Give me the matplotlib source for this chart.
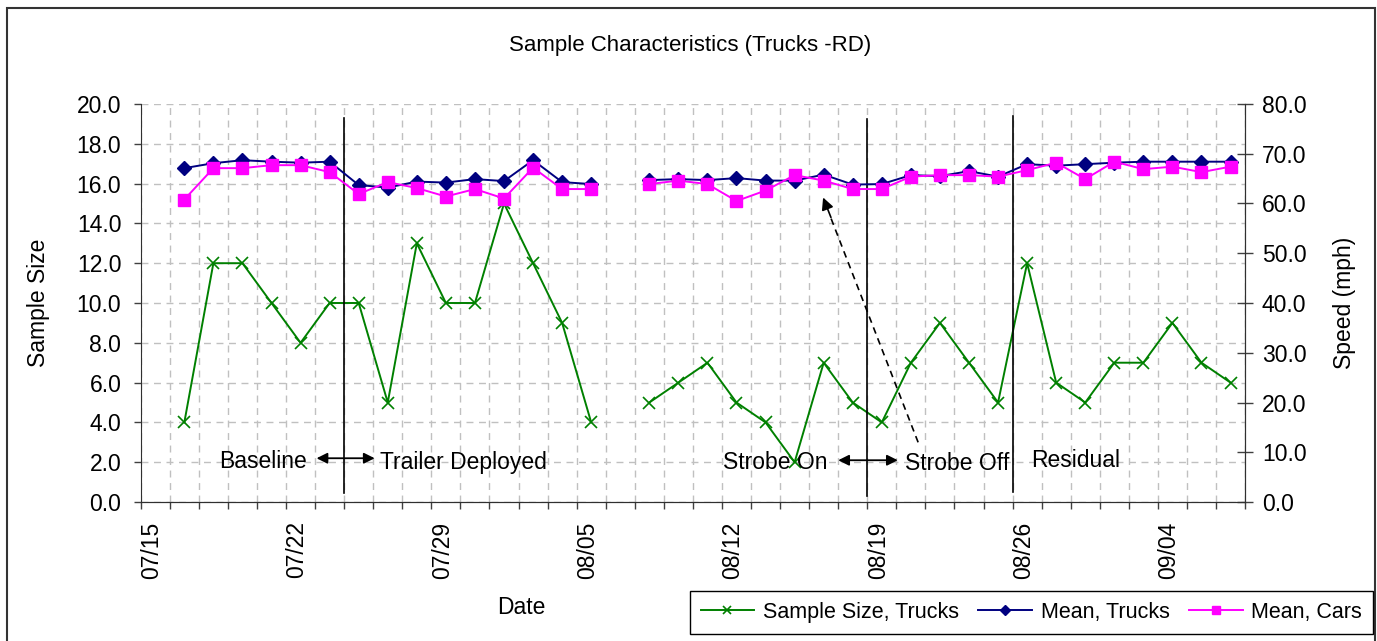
import numpy as np
import matplotlib
matplotlib.use("Agg")
from matplotlib import pyplot as plt
from matplotlib.patches import Rectangle

plt.rcParams['font.family'] = ['Liberation Sans', 'DejaVu Sans']

nan = np.nan

# one category per sampling day (weekdays)
dates = ['07/15', '07/16', '07/17', '07/18', '07/19',
         '07/22', '07/23', '07/24', '07/25', '07/26',
         '07/29', '07/30', '07/31', '08/01', '08/02',
         '08/05', '08/06', '08/07', '08/08', '08/09',
         '08/12', '08/13', '08/14', '08/15', '08/16',
         '08/19', '08/20', '08/21', '08/22', '08/23',
         '08/26', '08/27', '08/28', '08/29', '08/30',
         '09/04', '09/05', '09/06']

sample_trucks = [nan, 4, 12, 12, 10, 8, 10, 10, 5, 13, 10, 10, 15, 12, 9, 4,
                 nan, 5, 6, 7, 5, 4, 2, 7, 5, 4, 7, 9, 7, 5, 12, 6, 5, 7, 7, 9, 7, 6]
mean_trucks = [nan, 67.1, 68.1, 68.7, 68.4, 68.2, 68.4, 63.7, 63.2, 64.4, 64.2, 64.9,
               64.5, 68.7, 64.3, 63.9,
               nan, 64.7, 64.9, 64.7, 65.1, 64.6, 64.6, 65.8, 63.8, 63.9, 65.7, 65.5,
               66.5, 65.4, 67.9, 67.6, 67.9, 68.2, 68.4, 68.4, 68.4, 68.4]
mean_cars = [nan, 60.8, 67.1, 67.1, 67.7, 67.7, 66.3, 61.9, 64.3, 63.1, 61.4, 62.9,
             61.0, 67.2, 62.9, 62.9,
             nan, 63.9, 64.6, 63.9, 60.5, 62.6, 65.7, 64.6, 62.9, 62.9, 65.4, 65.7,
             65.7, 65.4, 66.7, 68.2, 64.9, 68.4, 66.9, 67.4, 66.3, 67.4]

# phase changes fall between these categories
phase_breaks = [6.5, 24.5, 29.5]

x = np.arange(len(dates))
fs = 16.5

fig = plt.figure(figsize=(13.77, 6.41), dpi=100)
ax = fig.add_axes([0.1022, 0.2168, 0.8020, 0.6210])
ax2 = ax.twinx()

# grid
ax.set_xlim(-0.5, len(dates) - 0.5)
ax.set_ylim(0, 20)
ax2.set_ylim(0, 80)
ax.set_yticks(np.arange(0, 20.1, 2))
ax2.set_yticks(np.arange(0, 80.1, 10))
ax.yaxis.set_major_formatter(matplotlib.ticker.FormatStrFormatter('%.1f'))
ax2.yaxis.set_major_formatter(matplotlib.ticker.FormatStrFormatter('%.1f'))
ax.set_xticks(np.arange(-0.5, len(dates), 1))
ax.set_xticklabels([])
ax.set_xticks(x[::5] - 0.12, minor=True)
ax.set_xticklabels(dates[::5], minor=True, rotation=90, va='top', ha='center')
ax.grid(True, which='major', color='#c0c0c0', ls=(0, (5, 4)), lw=1)
ax.set_axisbelow(True)

ax.tick_params(axis='x', which='major', length=5, width=1, color='#404040')
ax.tick_params(axis='x', which='minor', length=0, pad=14, labelsize=fs)
ax.tick_params(axis='y', length=5, width=1, color='#404040', pad=9, labelsize=fs)
ax2.tick_params(axis='y', direction='inout', length=12, width=1, color='#404040', pad=6, labelsize=fs)

for a in (ax, ax2):
    a.spines['top'].set_visible(False)
    for s in ('left', 'right', 'bottom'):
        a.spines[s].set_color('#303030')
ax2.spines['left'].set_visible(False)

ax.plot(x, sample_trucks, color='#008000', lw=1.4, marker='x', ms=9, mew=1.2,
        label='Sample Size, Trucks', zorder=3)
ax2.plot(x, mean_trucks, color='#000080', lw=1.4, marker='D', ms=7,
         label='Mean, Trucks', zorder=3)
ax2.plot(x, mean_cars, color='#ff00ff', lw=1.4, marker='s', ms=9,
         label='Mean, Cars', zorder=4)

ax.set_ylabel('Sample Size', fontsize=fs)
ax.yaxis.set_label_coords(-0.082, 0.5)
ax2.set_ylabel('Speed (mph)', fontsize=fs)
ax2.yaxis.set_label_coords(1.0797, 0.5)

# phase markers and labels
tops = [19.3, 19.25, 19.4]
bottoms = [0.45, 0.3, 0.5]
for b, t, bt in zip(phase_breaks, tops, bottoms):
    ax.plot([b, b], [bt, t], color='black', lw=1.2, zorder=5)

arrow = dict(arrowstyle='<|-|>', color='black', lw=1.3, mutation_scale=16, shrinkA=0, shrinkB=0)
ax.annotate('', xy=(5.55, 2.2), xytext=(7.55, 2.2), arrowprops=arrow)
ax.annotate('', xy=(23.5, 2.1), xytext=(25.55, 2.1), arrowprops=arrow)
ax.text(3.7, 2.05, 'Baseline', fontsize=fs, ha='center', va='center')
ax.text(7.75, 2.0, 'Trailer Deployed', fontsize=fs, ha='left', va='center')
ax.text(21.35, 2.0, 'Strobe On', fontsize=fs, ha='center', va='center')
ax.text(25.8, 1.95, 'Strobe Off', fontsize=fs, ha='left', va='center')
ax.text(30.15, 2.1, 'Residual', fontsize=fs, ha='left', va='center')

# dashed pointer towards the speed lines
tail = (26.25, 3.0)
head = (22.98, 15.3)
ax.plot([tail[0], 23.2], [tail[1], 14.45], color='black', lw=1.2, ls=(0, (4, 3)), zorder=5)
ax.annotate('', xy=head, xytext=(23.25, 14.3),
            arrowprops=dict(arrowstyle='-|>', color='black', lw=1.2, mutation_scale=18,
                            shrinkA=0, shrinkB=0), zorder=5)

fig.text(0.501, 1 - 45 / 641, 'Sample Characteristics (Trucks -RD)', fontsize=16,
         ha='center', va='center')
fig.text(521 / 1377, 1 - 608 / 641, 'Date', fontsize=fs, ha='center', va='center')

h1, l1 = ax.get_legend_handles_labels()
h2, l2 = ax2.get_legend_handles_labels()
leg = fig.legend(h1 + h2, l1 + l2, loc='center', bbox_to_anchor=(0.749, 0.0445),
                 ncol=3, fontsize=15.5, frameon=True, fancybox=False, framealpha=1,
                 edgecolor='black', handlelength=2.5, handletextpad=0.4,
                 columnspacing=0.9, borderpad=0.5, markerscale=0.7)
leg.get_frame().set_linewidth(1.0)

fig.patches.append(Rectangle((7 / 1377, -0.02), 1368 / 1377, 1 - 8 / 641 + 0.02,
                             transform=fig.transFigure, fill=False,
                             edgecolor='#333333', lw=1.5))

fig.savefig('out.png', dpi=100)
